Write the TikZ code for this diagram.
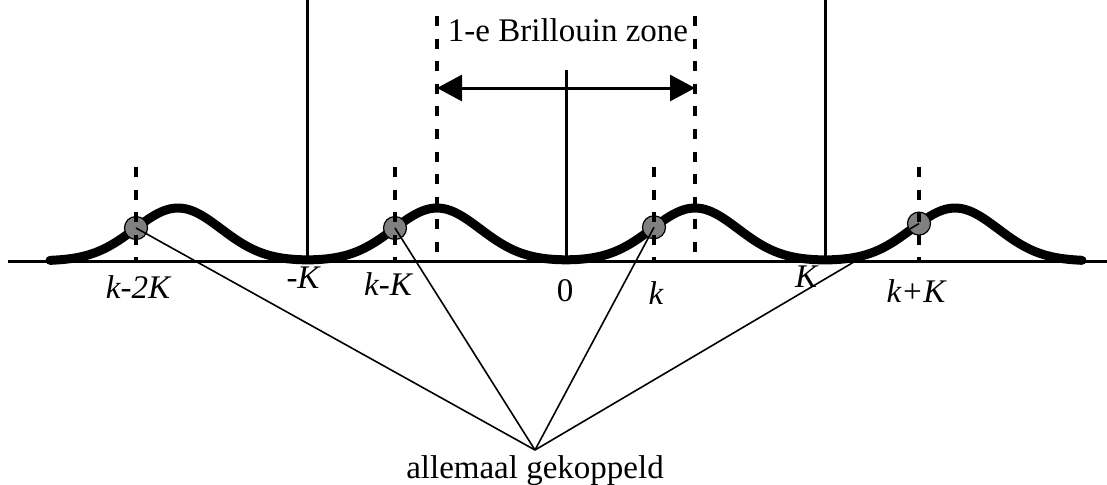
\documentclass[tikz,border=0pt]{standalone}
\usepackage{fontspec}
\setmainfont{Liberation Serif}
\usetikzlibrary{arrows.meta,positioning}

\begin{document}
\begin{tikzpicture}[x=0.5pt, y=-0.5pt, >={Triangle[length=12.5pt,width=13pt]},
  declare function={bump(\t)=exp(-((\t)/61)*((\t)/61));
    energy(\t)=261-53*(bump(\t-178)+bump(\t-437)+bump(\t-695)+bump(\t-955));},
  axis/.style={line width=1.5pt},
  wall/.style={line width=1.5pt},
  zone/.style={line width=2pt, dash pattern=on 5pt off 6.3pt},
  kmark/.style={line width=2pt, dash pattern=on 5pt off 6.3pt},
  disp/.style={line width=4.5pt, line cap=round, line join=round},
  dot/.style={circle, draw, fill=black!50, line width=0.6pt, minimum size=11.5pt, inner sep=0pt},
  link/.style={line width=0.8pt},
  lbl/.style={font=\fontsize{16.5}{19}\selectfont\itshape, inner sep=0pt},
  txt/.style={font=\fontsize{16.5}{19}\selectfont, inner sep=0pt}]
\useasboundingbox (0,0) rectangle (1107,484);

% k axis and lattice points
\draw[axis] (8,261) -- (1107,261);
\draw[wall] (307,0) -- (307,261);
\draw[wall] (825,0) -- (825,261);
\draw[wall] (566,70) -- (566,261);

% first Brillouin zone
\draw[zone] (437,16) -- (437,261);
\draw[zone] (695,16) -- (695,261);
\coordinate (zl) at (437,88);
\coordinate (zr) at (695,88);
\draw[<->, line width=1.5pt] (zl) -- (zr);
\node[txt] (zname) at (568,30) {1-e Brillouin zone};

% the band
\draw[disp] plot[domain=50:1082, samples=240, smooth] (\x, {energy(\x)});

% equivalent states
\node[dot] (d1) at (136,{energy(136)}) {};
\node[dot] (d2) at (395,{energy(395)}) {};
\node[dot] (d3) at (654,{energy(654)}) {};
\node[dot] (d4) at (919,{energy(919)}) {};
\foreach \x in {136,395,654,919}
  \draw[kmark] (\x,167) -- (\x,261);

\coordinate (apex) at (535,450);
\node[txt, below=2.5pt of apex] (coupled) {allemaal gekoppeld};
\foreach \d in {d1,d2,d3,d4}
  \draw[link] (\d.center) -- (apex);

% labels
\node[lbl] (lkmm) at (138,287) {k-2K};
\node[lbl] (lmK) at (303,278) {-K};
\node[lbl] (lkmK) at (388,284) {k-K};
\node[txt] (lzero) at (565,291) {0};
\node[lbl] (lk) at (656,293) {k};
\node[lbl] (lK) at (806,277) {K};
\node[lbl] (lkpK) at (916,291) {k+K};
\end{tikzpicture}
\end{document}
